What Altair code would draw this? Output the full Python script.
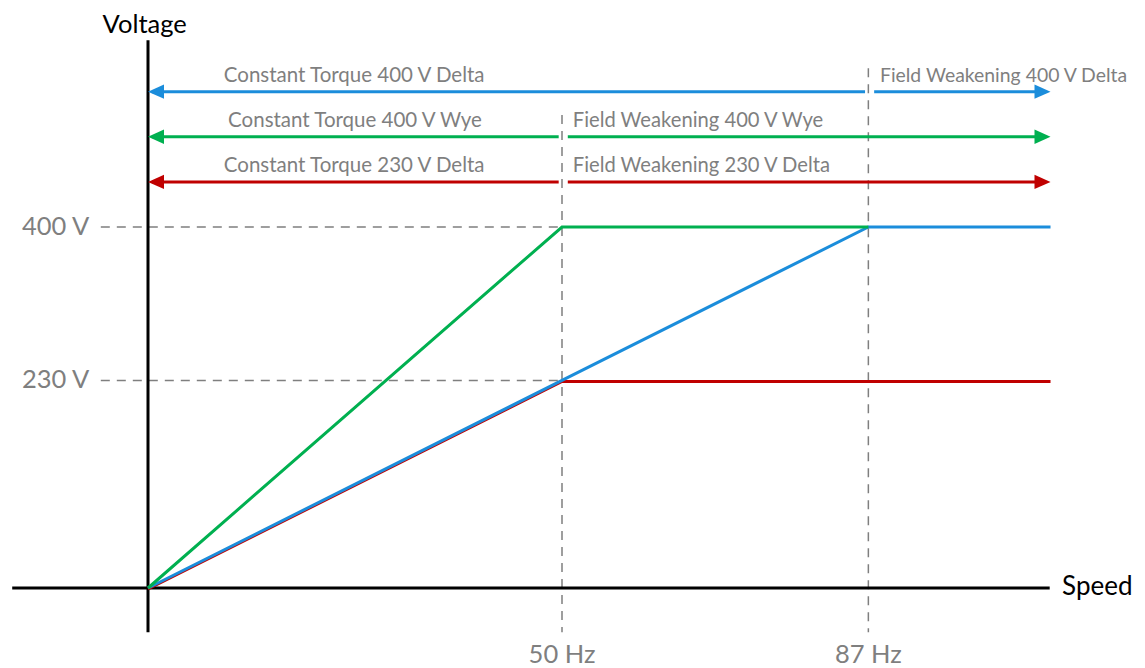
import altair as alt
import pandas as pd

# ---- data (Hz / Volt) ----
speed_end = 109

red_speed = [0, 50, 109]
red_volt = [0, 230, 230]
green_speed = [0, 50, 87]
green_volt = [0, 400, 400]
blue_speed = [0, 50, 87, 109]
blue_volt = [0, 230, 400, 400]

arrow_names = ["400 V Delta", "400 V Wye", "230 V Delta"]
arrow_level = [550, 500, 450]
arrow_split = [87, 50, 50]
arrow_colors = ["#1b8ddb", "#00b050", "#c00000"]
ct_labels = ["Constant Torque 400 V Delta", "Constant Torque 400 V Wye", "Constant Torque 230 V Delta"]
fw_labels = ["Field Weakening 400 V Delta", "Field Weakening 400 V Wye", "Field Weakening 230 V Delta"]
fw_sizes = [19.4, 20.2, 20.2]

tick_volts = [400, 230]
tick_volt_labels = ["400 V", "230 V"]
tick_speeds = [50, 87]
tick_speed_labels = ["50 Hz", "87 Hz"]

W, H = 1129, 660
px_per_hz = 8.28
px_per_v = 0.9025
xdom = [-140 / px_per_hz, (W - 140) / px_per_hz]
ydom = [-(H - 580) / px_per_v, 580 / px_per_v]
xs = alt.Scale(domain=xdom, nice=False, zero=False)
ys = alt.Scale(domain=ydom, nice=False, zero=False)
FONT = "Lato"
GRAY = "#7f7f7f"

def X(f="x"):
    return alt.X(f"{f}:Q", scale=xs, axis=None)

def Y(f="y"):
    return alt.Y(f"{f}:Q", scale=ys, axis=None)

# dashed guide lines
guides = pd.DataFrame({
    "x": [-5.7, -5.7, 50, 87],
    "x2": [50, 50, 50, 87],
    "y": [400, 230, 524, 576],
    "y2": [400, 230, -49, -49],
})
guide_layer = alt.Chart(guides).mark_rule(color=GRAY, strokeWidth=1.5, strokeDash=[9, 7]).encode(
    x=X(), x2="x2:Q", y=Y(), y2="y2:Q")

# axis lines
axes = pd.DataFrame({
    "x": [-16.4, 0],
    "x2": [108.9, 0],
    "y": [0, 607],
    "y2": [0, -49],
})
axis_layer = alt.Chart(axes).mark_rule(color="black", strokeWidth=3).encode(
    x=X(), x2="x2:Q", y=Y(), y2="y2:Q")

def line_layer(sp, vo, color, yoff=0):
    df = pd.DataFrame({"x": sp, "y": vo, "o": list(range(len(sp)))})
    return alt.Chart(df).mark_line(color=color, strokeWidth=3, yOffset=yoff).encode(
        x=X(), y=Y(), order="o:Q")

red_layer = line_layer(red_speed, red_volt, "#c00000", 1)
green_layer = line_layer(green_speed, green_volt, "#00b050")
blue_layer = line_layer(blue_speed, blue_volt, "#1b8ddb")

# arrows
seg_rows = []
head_rows = []
for name, lev, sp in zip(arrow_names, arrow_level, arrow_split):
    seg_rows.append({"x": 0.5, "x2": sp - 0.4, "y": lev, "c": name})
    seg_rows.append({"x": sp + 0.7, "x2": speed_end - 1.0, "y": lev, "c": name})
    head_rows.append({"x": 0, "y": lev, "c": name, "d": "L"})
    head_rows.append({"x": speed_end, "y": lev, "c": name, "d": "R"})
segs = pd.DataFrame(seg_rows)
heads = pd.DataFrame(head_rows)
cscale = alt.Scale(domain=arrow_names, range=arrow_colors)
seg_layer = alt.Chart(segs).mark_rule(strokeWidth=3).encode(
    x=X(), x2="x2:Q", y=Y(), color=alt.Color("c:N", scale=cscale, legend=None))
headL = alt.Chart(heads).transform_filter(alt.datum.d == "L").mark_point(
    shape="M0,0L2,-0.9L2,0.9Z", filled=True, size=256, opacity=1, strokeWidth=0).encode(
    x=X(), y=Y(), color=alt.Color("c:N", scale=cscale, legend=None))
headR = alt.Chart(heads).transform_filter(alt.datum.d == "R").mark_point(
    shape="M0,0L-2,-0.9L-2,0.9Z", filled=True, size=256, opacity=1, strokeWidth=0).encode(
    x=X(), y=Y(), color=alt.Color("c:N", scale=cscale, legend=None))

# arrow labels
ct_df = pd.DataFrame({"x": [24.9, 25.0, 24.9], "y": [v + 17.5 for v in arrow_level], "t": ct_labels})
fw_df = pd.DataFrame({"x": [88.4, 51.3, 51.3], "y": [v + 17.5 for v in arrow_level], "t": fw_labels,
                      "s": fw_sizes})
ct_layer = alt.Chart(ct_df).mark_text(font=FONT, fontSize=20.5, color=GRAY, align="center", baseline="middle").encode(
    x=X(), y=Y(), text="t:N")
fw_layer = alt.Chart(fw_df).mark_text(font=FONT, color=GRAY, align="left", baseline="middle").encode(
    x=X(), y=Y(), text="t:N", size=alt.Size("s:Q", scale=None, legend=None))

# tick labels
vt_df = pd.DataFrame({"x": [-7.1] * 2, "y": tick_volts, "t": tick_volt_labels})
vt_layer = alt.Chart(vt_df).mark_text(font=FONT, fontSize=25.5, color=GRAY, align="right", baseline="middle").encode(
    x=X(), y=Y(), text="t:N")
st_df = pd.DataFrame({"x": tick_speeds, "y": [-74] * 2, "t": tick_speed_labels})
st_layer = alt.Chart(st_df).mark_text(font=FONT, fontSize=25.5, color=GRAY, align="center", baseline="middle").encode(
    x=X(), y=Y(), text="t:N")

# axis titles
title_df = pd.DataFrame({"x": [-0.4, 110.4], "y": [624, 1], "t": ["Voltage", "Speed"], "a": ["center", "left"]})
vtitle = alt.Chart(title_df).transform_filter(alt.datum.a == "center").mark_text(
    font=FONT, fontSize=25.5, color="black", align="center", baseline="middle").encode(x=X(), y=Y(), text="t:N")
stitle = alt.Chart(title_df).transform_filter(alt.datum.a == "left").mark_text(
    font=FONT, fontSize=26, color="black", align="left", baseline="middle").encode(x=X(), y=Y(), text="t:N")

chart = alt.layer(
    guide_layer, axis_layer, red_layer, blue_layer, green_layer,
    seg_layer, headL, headR, ct_layer, fw_layer, vt_layer, st_layer, vtitle, stitle,
).properties(
    width=W, height=H, autosize=alt.AutoSizeParams(type="none"), padding=0, background="white",
).configure_view(stroke=None)

chart.save("out.html", embed_options={"renderer": "svg", "actions": False})
